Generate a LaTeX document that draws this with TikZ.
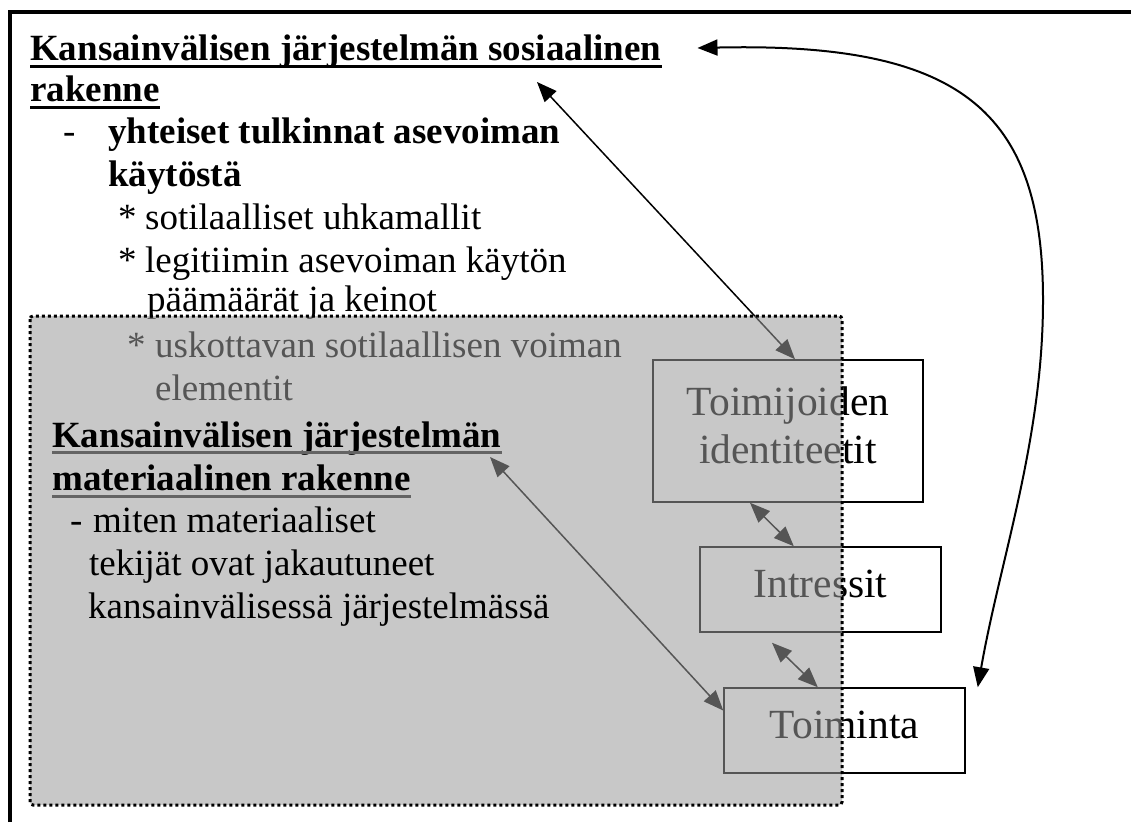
\documentclass[tikz,border=0pt]{standalone}
\usepackage{fontspec}
\setmainfont{Liberation Serif}
\usetikzlibrary{arrows.meta, calc}
\definecolor{shadegray}{RGB}{155,155,155}
\definecolor{linegray}{RGB}{100,100,100}

\begin{document}
\begin{tikzpicture}[
    x=1pt, y=-1pt,
    txt/.style={anchor=base west, inner sep=0pt, font=\fontsize{37}{42}\selectfont},
    headtxt/.style={anchor=base west, inner sep=0pt, font=\fontsize{37}{42}\selectfont\bfseries},
    actbox/.style={draw, line width=1.5pt, inner sep=0pt, text depth=12pt, align=center, font=\fontsize{41.5}{48}\selectfont},
    uline/.style={line width=3pt},
    link/.style={{Triangle[length=20pt,width=16pt]}-{Triangle[length=20pt,width=16pt]}, line width=1.5pt},
    matshade/.style={draw, line width=3pt, dash pattern=on 3pt off 3pt, fill=shadegray, fill opacity=0.55, rounded corners=3pt}
]
\useasboundingbox (0,0) rectangle (1131,822);

% outer frame
\draw[line width=4pt] (10,822) -- (10,12) -- (1131,12);

% social structure
\node (soc1) [headtxt] at (30,60) {Kansainvälisen järjestelmän sosiaalinen};
\node (soc2) [headtxt] at (30,101) {rakenne};
\draw[uline] ([yshift=-6pt]soc1.base west) -- ([yshift=-6pt]soc1.base east);
\draw[uline] ([yshift=-6pt]soc2.base west) -- ([yshift=-6pt]soc2.base east);
\node (dash1) [txt] at (63,143) {-};
\node (shared1) [headtxt] at (108,143) {yhteiset tulkinnat asevoiman};
\node (shared2) [headtxt] at (108,186) {käytöstä};
\node (star1) [txt] at (118,229) {*};
\node (threat) [txt] at (145,229) {sotilaalliset uhkamallit};
\node (star2) [txt] at (118,272) {*};
\node (legit1) [txt] at (145,272) {legitiimin asevoiman käytön};
\node (legit2) [txt] at (147,311) {päämäärät ja keinot};
\node (star3) [txt] at (127,357) {*};
\node (cred1) [txt] at (155,357) {uskottavan sotilaallisen voiman};
\node (cred2) [txt] at (155,400) {elementit};

% actor boxes
\node (tid) [actbox, minimum width=270pt, minimum height=142pt] at (788,431) {Toimijoiden\\identiteetit};
\node (intr) [actbox, minimum width=241pt, minimum height=85pt] at (820.5,589.5) {Intressit};
\node (toim) [actbox, minimum width=241pt, minimum height=85pt] at (844.5,730.5) {Toiminta};

% arrows
\coordinate (socin) at (537,82);
\coordinate (matin) at (490,457);
\draw[link] (socin) -- ([xshift=7pt]tid.north);
\draw[link] ($(tid.south west)!0.36!(tid.south east)$) -- ($(intr.north west)!0.39!(intr.north east)$);
\draw[link] ($(intr.south west)!0.30!(intr.south east)+(0,10)$) -- ($(toim.north west)!0.39!(toim.north east)$);
\draw[link] (matin) -- ([yshift=20pt]toim.west);
\draw[link, line width=2pt] ($(soc1.base east)+(36,-12)$) .. controls (960,42) and (1043,110) .. (1043,300)
    .. controls (1043,440) and (1000,560) .. ([xshift=12pt]toim.north east);

% material structure
\draw[matshade] (30,316) rectangle (842,805);
\node (mat1) [headtxt] at (52,447) {Kansainvälisen järjestelmän};
\node (mat2) [headtxt] at (52,490) {materiaalinen rakenne};
\draw[uline, linegray] ([yshift=-5pt]mat1.base west) -- ([yshift=-5pt]mat1.base east);
\draw[uline, linegray] ([yshift=-6pt]mat2.base west) -- ([yshift=-6pt]mat2.base east);
\node (dash2) [txt] at (70,532) {-};
\node (how1) [txt] at (93,532) {miten materiaaliset};
\node (how2) [txt] at (89,575) {tekijät ovat jakautuneet};
\node (how3) [txt] at (88,618) {kansainvälisessä järjestelmässä};

\end{tikzpicture}
\end{document}
